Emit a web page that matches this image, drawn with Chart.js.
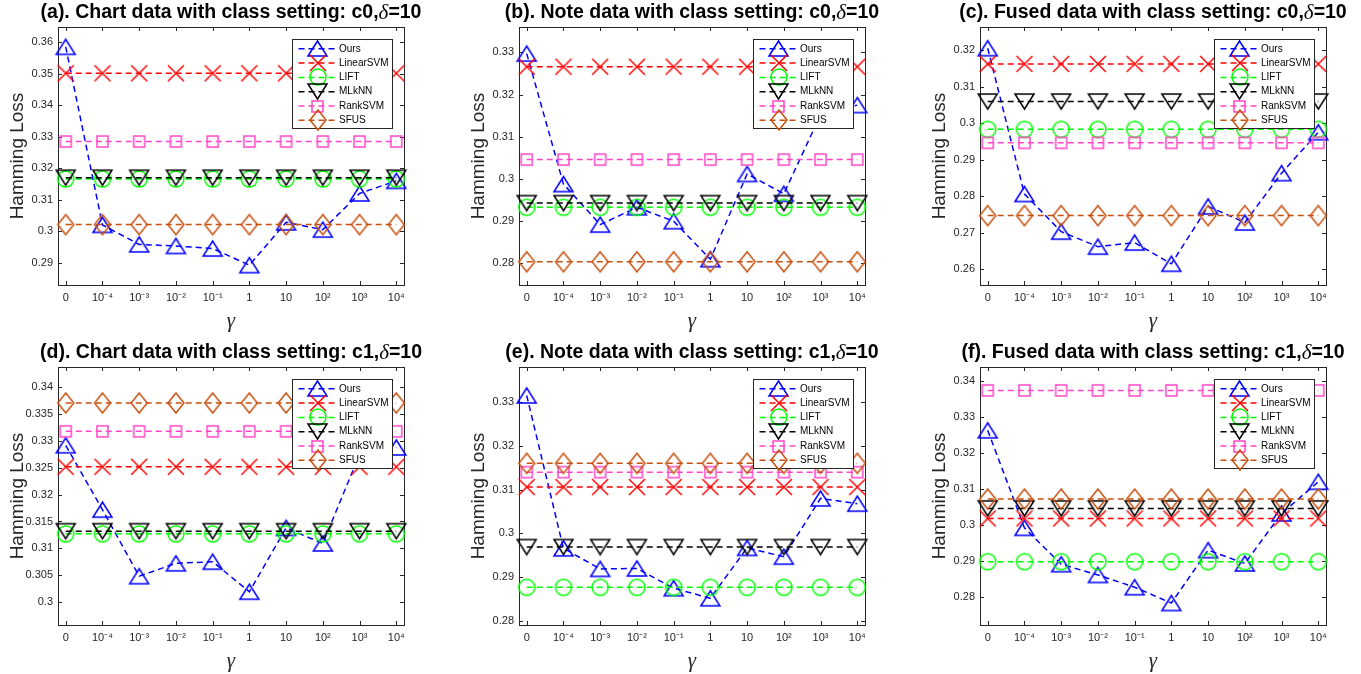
<!DOCTYPE html>
<html lang="en">
<head>
    <meta charset="UTF-8">
    <title>Hamming Loss vs gamma</title>
    <script src="https://cdn.jsdelivr.net/npm/chart.js"></script>
    <style>
        body {
            margin: 0;
            background: #fff;
        }
        canvas {
            position: absolute;
        }
    </style>
</head>
<body>
    <script>
        // x categories and legend names
        const gammaLabels = ['0', '10⁻⁴', '10⁻³', '10⁻²', '10⁻¹', '1', '10', '10²', '10³', '10⁴'];
        const methodNames = ['Ours', 'LinearSVM', 'LIFT', 'MLkNN', 'RankSVM', 'SFUS'];

        // (a) Chart data, c0
        const chartC0Ours   = [0.3586, 0.3020, 0.2958, 0.2953, 0.2945, 0.2892, 0.3028, 0.3005, 0.3120, 0.3160];
        const chartC0Linear = [0.3502, 0.3502, 0.3502, 0.3502, 0.3502, 0.3502, 0.3502, 0.3502, 0.3502, 0.3502];
        const chartC0Lift   = [0.3166, 0.3166, 0.3166, 0.3166, 0.3166, 0.3166, 0.3166, 0.3166, 0.3166, 0.3166];
        const chartC0Mlknn  = [0.3170, 0.3170, 0.3170, 0.3170, 0.3170, 0.3170, 0.3170, 0.3170, 0.3170, 0.3170];
        const chartC0Rank   = [0.3285, 0.3285, 0.3285, 0.3285, 0.3285, 0.3285, 0.3285, 0.3285, 0.3285, 0.3285];
        const chartC0Sfus   = [0.3021, 0.3021, 0.3021, 0.3021, 0.3021, 0.3021, 0.3021, 0.3021, 0.3021, 0.3021];
        const chartC0YTicks = [0.29, 0.30, 0.31, 0.32, 0.33, 0.34, 0.35, 0.36];
        const chartC0YRange = [0.2829, 0.3649];

        // (b) Note data, c0
        const noteC0Ours   = [0.3297, 0.2988, 0.2892, 0.2933, 0.2900, 0.2810, 0.3012, 0.2965, 0.3152, 0.3175];
        const noteC0Linear = [0.3266, 0.3266, 0.3266, 0.3266, 0.3266, 0.3266, 0.3266, 0.3266, 0.3266, 0.3266];
        const noteC0Lift   = [0.2933, 0.2933, 0.2933, 0.2933, 0.2933, 0.2933, 0.2933, 0.2933, 0.2933, 0.2933];
        const noteC0Mlknn  = [0.2943, 0.2943, 0.2943, 0.2943, 0.2943, 0.2943, 0.2943, 0.2943, 0.2943, 0.2943];
        const noteC0Rank   = [0.3046, 0.3046, 0.3046, 0.3046, 0.3046, 0.3046, 0.3046, 0.3046, 0.3046, 0.3046];
        const noteC0Sfus   = [0.2804, 0.2804, 0.2804, 0.2804, 0.2804, 0.2804, 0.2804, 0.2804, 0.2804, 0.2804];
        const noteC0YTicks = [0.28, 0.29, 0.30, 0.31, 0.32, 0.33];
        const noteC0YRange = [0.2749, 0.3360];

        // (c) Fused data, c0
        const fusedC0Ours   = [0.3205, 0.2806, 0.2703, 0.2662, 0.2673, 0.2615, 0.2772, 0.2728, 0.2863, 0.2975];
        const fusedC0Linear = [0.3162, 0.3162, 0.3162, 0.3162, 0.3162, 0.3162, 0.3162, 0.3162, 0.3162, 0.3162];
        const fusedC0Lift   = [0.2983, 0.2983, 0.2983, 0.2983, 0.2983, 0.2983, 0.2983, 0.2983, 0.2983, 0.2983];
        const fusedC0Mlknn  = [0.3059, 0.3059, 0.3059, 0.3059, 0.3059, 0.3059, 0.3059, 0.3059, 0.3059, 0.3059];
        const fusedC0Rank   = [0.2946, 0.2946, 0.2946, 0.2946, 0.2946, 0.2946, 0.2946, 0.2946, 0.2946, 0.2946];
        const fusedC0Sfus   = [0.2747, 0.2747, 0.2747, 0.2747, 0.2747, 0.2747, 0.2747, 0.2747, 0.2747, 0.2747];
        const fusedC0YTicks = [0.26, 0.27, 0.28, 0.29, 0.30, 0.31, 0.32];
        const fusedC0YRange = [0.2557, 0.3263];

        // (d) Chart data, c1
        const chartC1Ours   = [0.3292, 0.3172, 0.3048, 0.3072, 0.3075, 0.3019, 0.3138, 0.3109, 0.3275, 0.3288];
        const chartC1Linear = [0.3252, 0.3252, 0.3252, 0.3252, 0.3252, 0.3252, 0.3252, 0.3252, 0.3252, 0.3252];
        const chartC1Lift   = [0.3127, 0.3127, 0.3127, 0.3127, 0.3127, 0.3127, 0.3127, 0.3127, 0.3127, 0.3127];
        const chartC1Mlknn  = [0.3132, 0.3132, 0.3132, 0.3132, 0.3132, 0.3132, 0.3132, 0.3132, 0.3132, 0.3132];
        const chartC1Rank   = [0.3318, 0.3318, 0.3318, 0.3318, 0.3318, 0.3318, 0.3318, 0.3318, 0.3318, 0.3318];
        const chartC1Sfus   = [0.3371, 0.3371, 0.3371, 0.3371, 0.3371, 0.3371, 0.3371, 0.3371, 0.3371, 0.3371];
        const chartC1YTicks = [0.300, 0.305, 0.310, 0.315, 0.320, 0.325, 0.330, 0.335, 0.340];
        const chartC1YRange = [0.2957, 0.3438];

        // (e) Note data, c1
        const noteC1Ours   = [0.3315, 0.2966, 0.2919, 0.2920, 0.2875, 0.2852, 0.2967, 0.2947, 0.3080, 0.3068];
        const noteC1Linear = [0.3106, 0.3106, 0.3106, 0.3106, 0.3106, 0.3106, 0.3106, 0.3106, 0.3106, 0.3106];
        const noteC1Lift   = [0.2877, 0.2877, 0.2877, 0.2877, 0.2877, 0.2877, 0.2877, 0.2877, 0.2877, 0.2877];
        const noteC1Mlknn  = [0.2969, 0.2969, 0.2969, 0.2969, 0.2969, 0.2969, 0.2969, 0.2969, 0.2969, 0.2969];
        const noteC1Rank   = [0.3140, 0.3140, 0.3140, 0.3140, 0.3140, 0.3140, 0.3140, 0.3140, 0.3140, 0.3140];
        const noteC1Sfus   = [0.3160, 0.3160, 0.3160, 0.3160, 0.3160, 0.3160, 0.3160, 0.3160, 0.3160, 0.3160];
        const noteC1YTicks = [0.28, 0.29, 0.30, 0.31, 0.32, 0.33];
        const noteC1YRange = [0.2791, 0.3380];

        // (f) Fused data, c1
        const fusedC1Ours   = [0.3264, 0.2993, 0.2892, 0.2862, 0.2828, 0.2784, 0.2931, 0.2894, 0.3033, 0.3121];
        const fusedC1Linear = [0.3019, 0.3019, 0.3019, 0.3019, 0.3019, 0.3019, 0.3019, 0.3019, 0.3019, 0.3019];
        const fusedC1Lift   = [0.2899, 0.2899, 0.2899, 0.2899, 0.2899, 0.2899, 0.2899, 0.2899, 0.2899, 0.2899];
        const fusedC1Mlknn  = [0.3047, 0.3047, 0.3047, 0.3047, 0.3047, 0.3047, 0.3047, 0.3047, 0.3047, 0.3047];
        const fusedC1Rank   = [0.3375, 0.3375, 0.3375, 0.3375, 0.3375, 0.3375, 0.3375, 0.3375, 0.3375, 0.3375];
        const fusedC1Sfus   = [0.3073, 0.3073, 0.3073, 0.3073, 0.3073, 0.3073, 0.3073, 0.3073, 0.3073, 0.3073];
        const fusedC1YTicks = [0.28, 0.29, 0.30, 0.31, 0.32, 0.33, 0.34];
        const fusedC1YRange = [0.2723, 0.3440];

        const panels = [
            { title: '(a). Chart data with class setting: c0,', yRange: chartC0YRange, yTicks: chartC0YTicks,
              series: [chartC0Ours, chartC0Linear, chartC0Lift, chartC0Mlknn, chartC0Rank, chartC0Sfus] },
            { title: '(b). Note data with class setting: c0,', yRange: noteC0YRange, yTicks: noteC0YTicks,
              series: [noteC0Ours, noteC0Linear, noteC0Lift, noteC0Mlknn, noteC0Rank, noteC0Sfus] },
            { title: '(c). Fused data with class setting: c0,', yRange: fusedC0YRange, yTicks: fusedC0YTicks,
              series: [fusedC0Ours, fusedC0Linear, fusedC0Lift, fusedC0Mlknn, fusedC0Rank, fusedC0Sfus] },
            { title: '(d). Chart data with class setting: c1,', yRange: chartC1YRange, yTicks: chartC1YTicks,
              series: [chartC1Ours, chartC1Linear, chartC1Lift, chartC1Mlknn, chartC1Rank, chartC1Sfus] },
            { title: '(e). Note data with class setting: c1,', yRange: noteC1YRange, yTicks: noteC1YTicks,
              series: [noteC1Ours, noteC1Linear, noteC1Lift, noteC1Mlknn, noteC1Rank, noteC1Sfus] },
            { title: '(f). Fused data with class setting: c1,', yRange: fusedC1YRange, yTicks: fusedC1YTicks,
              series: [fusedC1Ours, fusedC1Linear, fusedC1Lift, fusedC1Mlknn, fusedC1Rank, fusedC1Sfus] }
        ];

        const colors = ['#0000ff', '#ff0000', '#00ff00', '#000000', '#ff45c8', '#c8500f'];
        const markerKinds = ['triUp', 'cross', 'circle', 'triDown', 'square', 'diamond'];
        const axisColor = '#262626';
        const sansFont = "'Liberation Sans', Arial, sans-serif";
        const serifFont = "'Liberation Serif', 'Times New Roman', serif";

        // MATLAB-looking markers drawn once into small canvases
        function makeMarker(kind, color) {
            const sizes = {
                triUp: [19, 15], triDown: [19, 15], cross: [16, 16],
                circle: [16, 16], square: [11, 11], diamond: [16, 20]
            };
            const [w, h] = sizes[kind];
            const c = document.createElement('canvas');
            c.width = w + 4;
            c.height = h + 4;
            const g = c.getContext('2d');
            const cx = c.width / 2, cy = c.height / 2;
            g.strokeStyle = color;
            g.lineWidth = 1.5;
            g.beginPath();
            if (kind === 'triUp') {
                g.moveTo(cx, cy - h / 2);
                g.lineTo(cx + w / 2, cy + h / 2);
                g.lineTo(cx - w / 2, cy + h / 2);
                g.closePath();
            } else if (kind === 'triDown') {
                g.moveTo(cx, cy + h / 2);
                g.lineTo(cx + w / 2, cy - h / 2);
                g.lineTo(cx - w / 2, cy - h / 2);
                g.closePath();
            } else if (kind === 'cross') {
                g.moveTo(cx - w / 2, cy - h / 2);
                g.lineTo(cx + w / 2, cy + h / 2);
                g.moveTo(cx + w / 2, cy - h / 2);
                g.lineTo(cx - w / 2, cy + h / 2);
            } else if (kind === 'circle') {
                g.arc(cx, cy, w / 2, 0, Math.PI * 2);
            } else if (kind === 'square') {
                g.rect(cx - w / 2, cy - h / 2, w, h);
            } else {
                g.moveTo(cx, cy - h / 2);
                g.lineTo(cx + w / 2, cy);
                g.lineTo(cx, cy + h / 2);
                g.lineTo(cx - w / 2, cy);
                g.closePath();
            }
            g.stroke();
            return c;
        }
        const markers = markerKinds.map((k, i) => makeMarker(k, colors[i]));

        // box, inward ticks, legend, title and axis labels
        const matlabDecor = {
            id: 'matlabDecor',
            beforeDatasetsDraw(chart) {
                const { ctx, chartArea: a, scales } = chart;
                ctx.save();
                ctx.strokeStyle = axisColor;
                ctx.lineWidth = 1;
                ctx.beginPath();
                scales.y.ticks.forEach(t => {
                    const y = Math.round(scales.y.getPixelForValue(t.value)) + 0.5;
                    ctx.moveTo(a.left, y); ctx.lineTo(a.left + 4, y);
                    ctx.moveTo(a.right, y); ctx.lineTo(a.right - 4, y);
                });
                scales.x.ticks.forEach(t => {
                    const x = Math.round(scales.x.getPixelForValue(t.value)) + 0.5;
                    ctx.moveTo(x, a.bottom); ctx.lineTo(x, a.bottom - 4);
                    ctx.moveTo(x, a.top); ctx.lineTo(x, a.top + 4);
                });
                ctx.stroke();
                ctx.strokeRect(Math.round(a.left) + 0.5, Math.round(a.top) + 0.5,
                    Math.round(a.right - a.left), Math.round(a.bottom - a.top));
                ctx.restore();
            },
            afterDraw(chart, args, opts) {
                const { ctx, chartArea: a } = chart;
                ctx.save();

                // legend
                const bw = 100, bh = 89;
                const bx = Math.round(a.right - 12 - bw) + 0.5;
                const by = Math.round(a.top + 12) + 0.5;
                ctx.fillStyle = '#fff';
                ctx.fillRect(bx, by, bw, bh);
                ctx.strokeStyle = axisColor;
                ctx.lineWidth = 1;
                ctx.strokeRect(bx, by, bw, bh);
                ctx.font = '10px ' + sansFont;
                ctx.textBaseline = 'middle';
                ctx.textAlign = 'left';
                chart.data.datasets.forEach((ds, i) => {
                    const y = by + 9.3 + i * 14.3;
                    ctx.strokeStyle = ds.borderColor;
                    ctx.lineWidth = 1.5;
                    ctx.setLineDash([6, 4]);
                    ctx.beginPath();
                    ctx.moveTo(bx + 6, y);
                    ctx.lineTo(bx + 44, y);
                    ctx.stroke();
                    ctx.setLineDash([]);
                    const m = ds.pointStyle;
                    ctx.drawImage(m, Math.round(bx + 25 - m.width / 2), Math.round(y - m.height / 2));
                    ctx.fillStyle = '#000';
                    ctx.fillText(ds.label, bx + 46.5, y);
                });

                // title with italic delta
                const cx = (a.left + a.right) / 2;
                const boldFont = 'bold 19.5px ' + sansFont;
                const deltaFont = 'italic 21px ' + serifFont;
                ctx.font = boldFont;
                const w1 = ctx.measureText(opts.title).width;
                const w3 = ctx.measureText('=10').width;
                ctx.font = deltaFont;
                const w2 = ctx.measureText('δ').width;
                let x = cx - (w1 + w2 + w3) / 2;
                ctx.fillStyle = '#000';
                ctx.textBaseline = 'middle';
                ctx.font = boldFont;
                ctx.fillText(opts.title, x, 13);
                x += w1;
                ctx.font = deltaFont;
                ctx.fillText('δ', x, 13);
                x += w2;
                ctx.font = boldFont;
                ctx.fillText('=10', x, 13);

                // y label
                ctx.fillStyle = axisColor;
                ctx.font = '19px ' + sansFont;
                ctx.textAlign = 'center';
                ctx.save();
                ctx.translate(a.left - 40, (a.top + a.bottom) / 2);
                ctx.rotate(-Math.PI / 2);
                ctx.fillText('Hamming Loss', 0, 0);
                ctx.restore();

                // x label
                ctx.font = 'italic 21px ' + serifFont;
                ctx.fillText('γ', cx, a.bottom + 36);
                ctx.restore();
            }
        };

        const panelLeft = [0, 461, 922];
        const panelTop = [0, 340];

        panels.forEach((p, idx) => {
            const canvas = document.createElement('canvas');
            canvas.width = 440;
            canvas.height = 335;
            canvas.style.left = panelLeft[idx % 3] + 'px';
            canvas.style.top = panelTop[Math.floor(idx / 3)] + 'px';
            document.body.appendChild(canvas);

            // Ours goes to the bottom, later methods on top (MATLAB plot order)
            const datasets = p.series.map((vals, i) => ({
                label: methodNames[i],
                data: vals.map((v, k) => ({ x: k, y: v })),
                borderColor: colors[i],
                backgroundColor: colors[i],
                borderWidth: 1.5,
                borderDash: [6, 4],
                pointStyle: markers[i],
                pointRadius: 9,
                fill: false,
                tension: 0,
                clip: false,
                order: methodNames.length - i
            }));

            new Chart(canvas.getContext('2d'), {
                type: 'line',
                data: { datasets: datasets },
                plugins: [matlabDecor],
                options: {
                    responsive: false,
                    animation: false,
                    events: [],
                    layout: { padding: { left: 0, top: 27, right: 36, bottom: 0 } },
                    plugins: {
                        legend: { display: false },
                        tooltip: { enabled: false },
                        matlabDecor: { title: p.title }
                    },
                    scales: {
                        x: {
                            type: 'linear',
                            min: -0.21,
                            max: 9.21,
                            grid: { display: false, drawTicks: false },
                            border: { display: false },
                            afterBuildTicks: s => { s.ticks = gammaLabels.map((_, k) => ({ value: k })); },
                            afterFit: s => { s.height = 50; },
                            ticks: {
                                autoSkip: false,
                                maxRotation: 0,
                                padding: 6,
                                color: axisColor,
                                font: { family: sansFont, size: 11 },
                                callback: v => gammaLabels[v]
                            }
                        },
                        y: {
                            min: p.yRange[0],
                            max: p.yRange[1],
                            grid: { display: false, drawTicks: false },
                            border: { display: false },
                            afterBuildTicks: s => { s.ticks = p.yTicks.map(v => ({ value: v })); },
                            afterFit: s => { s.width = 58; },
                            ticks: {
                                padding: 5,
                                color: axisColor,
                                font: { family: sansFont, size: 11 },
                                callback: v => String(+v.toFixed(3))
                            }
                        }
                    }
                }
            });
        });
    </script>
</body>
</html>
